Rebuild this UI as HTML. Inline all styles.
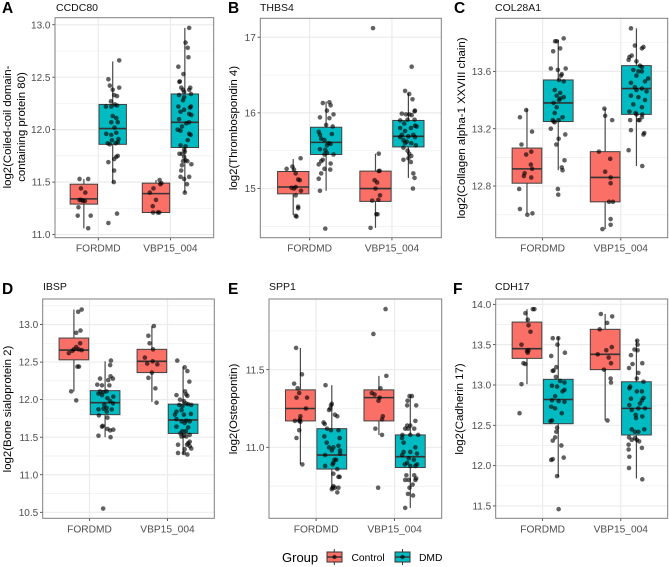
<!DOCTYPE html>
<html lang="en">
<head>
<meta charset="utf-8">
<title>Proteomic boxplots</title>
<style>
html,body{margin:0;padding:0;background:#fff;}
svg{display:block;font-family:"Liberation Sans",sans-serif;filter:blur(0.35px);}
</style>
</head>
<body>
<svg id="chart" width="669" height="567" viewBox="0 0 669 567" xmlns="http://www.w3.org/2000/svg">
  <g>
    <text x="282" y="562" font-size="13" fill="#000">Group</text>
    <g>
      <line x1="334.3" x2="334.3" y1="549" y2="565" stroke="#333" stroke-width="1"/>
      <rect x="327" y="552" width="15" height="10" fill="#FA6F66" stroke="#333" stroke-width="1"/>
      <line x1="327" x2="342" y1="557" y2="557" stroke="#333" stroke-width="1.4"/>
      <circle cx="334.5" cy="557" r="2.2" fill="#000" fill-opacity="0.65"/>
      <text x="351.5" y="561" font-size="10.3" fill="#000">Control</text>
    </g>
    <g>
      <line x1="402.5" x2="402.5" y1="549" y2="565" stroke="#333" stroke-width="1"/>
      <rect x="395" y="552" width="15" height="10" fill="#00BBC2" stroke="#333" stroke-width="1"/>
      <line x1="395" x2="410" y1="557" y2="557" stroke="#333" stroke-width="1.4"/>
      <circle cx="402.5" cy="557" r="2.2" fill="#000" fill-opacity="0.65"/>
      <text x="419" y="561" font-size="10.3" fill="#000">DMD</text>
    </g>
  </g>
</svg>
<script>
const categories = ['FORDMD', 'VBP15_004'];
const groups = ['Control', 'DMD'];

// Panel A — CCDC80. Stats: [whisker-low, q1, median, q3, whisker-high]. Points: [jitter, value].
const aTicks = [11, 11.5, 12, 12.5, 13];
const aTickLabels = ['11.0', '11.5', '12.0', '12.5', '13.0'];
const aMinor = [11.25, 11.75, 12.25, 12.75];
const aStatsControlFordmd = [11.06, 11.29, 11.34, 11.48, 11.53];
const aStatsDmdFordmd = [11.49, 11.86, 12.01, 12.24, 12.65];
const aStatsControlVbp = [11.21, 11.21, 11.39, 11.49, 11.52];
const aStatsDmdVbp = [11.40, 11.83, 12.07, 12.34, 12.97];
const aPointsControlFordmd = [[-.26,11.53],[-.14,11.53],[-.24,11.44],[-.18,11.40],[-.26,11.33],[-.235,11.33],[-.185,11.32],[-.275,11.26],[-.285,11.18],[-.105,11.18],[-.14,11.06],[-.21,11.32]];
const aPointsDmdFordmd = [[.29,12.66],[.14,12.48],[.16,12.42],[.29,12.40],[.2,12.38],[.22,12.33],[.26,12.32],[.175,12.27],[.105,12.22],[.18,12.22],[.23,12.24],[.26,12.23],[.2,12.13],[.25,12.11],[.18,12.07],[.27,12.07],[.225,12.02],[.11,11.96],[.18,11.95],[.25,11.97],[.28,11.91],[.19,11.90],[.13,11.87],[.16,11.86],[.24,11.87],[.27,11.88],[.27,11.75],[.25,11.74],[.22,11.72],[.14,11.69],[.22,11.61],[.215,11.50],[.26,11.20],[.14,11.11]];
const aPointsControlVbp = [[-.15,11.52],[-.125,11.49],[-.14,11.48],[-.235,11.44],[-.285,11.40],[-.2,11.33],[-.245,11.27],[-.24,11.21],[-.175,11.21],[-.155,11.21]];
const aPointsDmdVbp = [[.26,12.97],[.21,12.83],[.24,12.78],[.25,12.69],[.11,12.60],[.18,12.53],[.13,12.46],[.125,12.455],[.15,12.40],[.275,12.40],[.26,12.38],[.175,12.38],[.19,12.36],[.285,12.34],[.12,12.33],[.19,12.31],[.175,12.28],[.11,12.22],[.285,12.22],[.27,12.21],[.19,12.19],[.14,12.17],[.26,12.15],[.29,12.14],[.12,12.10],[.26,12.07],[.22,12.06],[.16,12.03],[.1,12.0],[.14,11.99],[.26,11.96],[.28,11.95],[.24,11.90],[.14,11.85],[.21,11.84],[.19,11.81],[.2,11.79],[.125,11.77],[.16,11.77],[.19,11.74],[.21,11.71],[.175,11.70],[.235,11.70],[.29,11.67],[.16,11.66],[.15,11.61],[.14,11.55],[.26,11.55],[.19,11.53],[.23,11.48],[.2,11.40]];

// Panel B — THBS4
const bTicks = [15, 16, 17];
const bTickLabels = ['15', '16', '17'];
const bMinor = [14.5, 15.5, 16.5];
const bStatsControlFordmd = [14.65, 14.93, 15.02, 15.225, 15.39];
const bStatsDmdFordmd = [14.97, 15.45, 15.61, 15.81, 16.15];
const bStatsControlVbp = [14.48, 14.83, 15.0, 15.23, 15.46];
const bStatsDmdVbp = [15.14, 15.55, 15.69, 15.90, 16.26];
const bPointsControlFordmd = [[-.11,15.40],[-.28,15.26],[-.21,15.29],[-.19,15.25],[-.17,15.20],[-.14,15.12],[-.12,15.11],[-.22,15.01],[-.17,15.02],[-.105,14.97],[-.17,14.91],[-.14,14.76],[-.14,14.74],[-.17,14.64],[-.16,14.63],[-.19,15.0]];
const bPointsDmdFordmd = [[.16,16.13],[.24,16.14],[.255,16.10],[.21,16.03],[.125,15.94],[.29,15.98],[.24,15.93],[.2,15.84],[.28,15.82],[.11,15.75],[.125,15.71],[.14,15.66],[.27,15.72],[.18,15.64],[.23,15.60],[.255,15.59],[.21,15.57],[.125,15.52],[.19,15.51],[.21,15.47],[.18,15.45],[.29,15.45],[.16,15.38],[.14,15.36],[.11,15.32],[.255,15.33],[.18,15.26],[.25,15.25],[.14,15.20],[.11,15.13],[.125,14.97],[.19,14.47]];
const bPointsControlVbp = [[-.23,17.12],[-.16,15.46],[-.16,15.23],[-.15,15.235],[-.21,15.11],[-.18,15.08],[-.2,15.0],[-.145,14.91],[-.24,14.84],[-.165,14.85],[-.19,14.66],[-.175,14.66],[-.26,14.48]];
const bPointsDmdVbp = [[.24,16.61],[.16,16.29],[.21,16.25],[.25,16.18],[.28,16.03],[.275,16.02],[.12,15.99],[.17,15.98],[.21,15.98],[.24,15.97],[.1,15.90],[.19,15.91],[.275,15.91],[.15,15.86],[.28,15.83],[.1,15.80],[.23,15.80],[.3,15.82],[.16,15.76],[.12,15.71],[.2,15.69],[.26,15.71],[.1,15.68],[.28,15.68],[.14,15.64],[.18,15.62],[.235,15.60],[.16,15.60],[.29,15.57],[.14,15.54],[.19,15.50],[.21,15.46],[.235,15.43],[.2,15.40],[.14,15.38],[.23,15.35],[.26,15.20],[.275,15.14],[.255,15.0]];

// Panel C — COL28A1
const cTicks = [12.8, 13.2, 13.6];
const cTickLabels = ['12.8', '13.2', '13.6'];
const cMinor = [12.6, 13.0, 13.4, 13.8];
const cStatsControlFordmd = [12.61, 12.82, 12.92, 13.065, 13.34];
const cStatsDmdFordmd = [12.91, 13.25, 13.38, 13.54, 13.82];
const cStatsControlVbp = [12.50, 12.69, 12.86, 13.04, 13.34];
const cStatsDmdVbp = [12.94, 13.30, 13.48, 13.64, 13.90];
const cPointsControlFordmd = [[-.21,13.33],[-.29,13.28],[-.135,13.18],[-.27,13.09],[-.145,13.04],[-.21,13.02],[-.15,12.95],[-.135,12.92],[-.23,12.89],[-.24,12.87],[-.145,12.86],[-.3,12.78],[-.29,12.64],[-.195,12.60],[-.13,12.61]];
const cPointsDmdFordmd = [[.27,13.83],[.16,13.81],[.18,13.81],[.225,13.76],[.135,13.74],[.105,13.62],[.195,13.61],[.295,13.62],[.245,13.58],[.235,13.57],[.21,13.54],[.27,13.53],[.155,13.47],[.225,13.45],[.18,13.43],[.27,13.42],[.225,13.41],[.14,13.38],[.21,13.40],[.18,13.35],[.155,13.31],[.13,13.26],[.205,13.26],[.255,13.28],[.14,13.25],[.155,13.245],[.105,13.20],[.29,13.16],[.205,13.13],[.175,13.09],[.28,12.98],[.245,12.93],[.255,12.91],[.195,12.78],[.2,12.74]];
const cPointsControlVbp = [[-.21,13.34],[-.2,13.29],[-.11,13.26],[-.28,13.04],[-.135,12.99],[-.2,12.90],[-.13,12.86],[-.13,12.82],[-.15,12.69],[-.1,12.69],[-.13,12.57],[-.13,12.53],[-.235,12.50]];
const cPointsDmdVbp = [[.13,13.90],[.18,13.78],[.27,13.76],[.29,13.77],[.11,13.70],[.14,13.71],[.1,13.68],[.2,13.67],[.245,13.64],[.27,13.63],[.16,13.61],[.225,13.60],[.27,13.60],[.2,13.57],[.35,13.55],[.13,13.52],[.31,13.53],[.18,13.49],[.27,13.48],[.33,13.46],[.2,13.47],[.13,13.43],[.225,13.42],[.31,13.40],[.16,13.37],[.27,13.35],[.11,13.32],[.19,13.31],[.275,13.30],[.2,13.30],[.27,13.28],[.12,13.26],[.24,13.26],[.225,13.26],[.3,13.17],[.29,13.16],[.13,13.19],[.1,13.05],[.275,12.94]];

// Panel D — IBSP
const dTicks = [10.5, 11, 11.5, 12, 12.5, 13];
const dTickLabels = ['10.5', '11.0', '11.5', '12.0', '12.5', '13.0'];
const dMinor = [10.75, 11.25, 11.75, 12.25, 12.75, 13.25];
const dStatsControlFordmd = [12.11, 12.53, 12.66, 12.82, 13.2];
const dStatsDmdFordmd = [11.5, 11.80, 11.96, 12.12, 12.51];
const dStatsControlVbp = [11.97, 12.36, 12.51, 12.67, 12.98];
const dStatsDmdVbp = [11.27, 11.55, 11.73, 11.94, 12.44];
const dPointsControlFordmd = [[-.1,13.20],[-.145,13.17],[-.115,12.92],[-.17,12.89],[-.12,12.75],[-.17,12.70],[-.2,12.67],[-.14,12.67],[-.22,12.65],[-.265,12.62],[-.1,12.66],[-.155,12.44],[-.135,12.44],[-.235,12.11],[-.17,11.99]];
const dPointsDmdFordmd = [[.275,12.52],[.265,12.46],[.135,12.28],[.27,12.31],[.3,12.28],[.24,12.26],[.1,12.20],[.16,12.19],[.255,12.19],[.135,12.11],[.18,12.10],[.22,12.11],[.115,12.08],[.16,12.06],[.305,12.04],[.23,12.02],[.265,11.98],[.3,11.95],[.19,11.93],[.115,11.87],[.22,11.89],[.18,11.88],[.285,11.87],[.22,11.84],[.12,11.79],[.23,11.76],[.17,11.65],[.16,11.64],[.23,11.61],[.305,11.60],[.265,11.59],[.115,11.52],[.27,11.50],[.175,10.55]];
const dPointsControlVbp = [[-.175,12.98],[-.245,12.85],[-.23,12.75],[-.185,12.67],[-.29,12.56],[-.19,12.51],[-.26,12.48],[-.13,12.47],[-.2,12.36],[-.245,12.29],[-.155,12.15],[-.14,11.96]];
const dPointsDmdVbp = [[.125,12.52],[.22,12.43],[.255,12.38],[.28,12.24],[.225,12.11],[.115,12.06],[.24,12.07],[.255,12.05],[.16,12.0],[.21,11.98],[.235,11.95],[.265,11.94],[.305,11.93],[.15,11.93],[.19,11.91],[.115,11.84],[.18,11.86],[.095,11.80],[.3,11.81],[.21,11.80],[.115,11.74],[.18,11.71],[.24,11.72],[.285,11.71],[.22,11.69],[.115,11.64],[.265,11.63],[.19,11.58],[.235,11.58],[.165,11.55],[.21,11.52],[.285,11.53],[.24,11.51],[.18,11.51],[.285,11.44],[.265,11.42],[.135,11.40],[.25,11.40],[.285,11.38],[.305,11.35],[.22,11.34],[.135,11.29],[.21,11.29],[.255,11.27]];

// Panel E — SPP1
const eTicks = [11, 11.5];
const eTickLabels = ['11.0', '11.5'];
const eMinor = [10.75, 11.25, 11.75];
const eStatsControlFordmd = [10.89, 11.17, 11.25, 11.37, 11.64];
const eStatsDmdFordmd = [10.73, 10.86, 10.95, 11.12, 11.40];
const eStatsControlVbp = [11.08, 11.17, 11.32, 11.37, 11.46];
const eStatsDmdVbp = [10.61, 10.87, 10.94, 11.08, 11.33];
const ePointsControlFordmd = [[-.255,11.64],[-.18,11.47],[-.28,11.41],[-.235,11.38],[-.215,11.35],[-.25,11.32],[-.115,11.32],[-.13,11.25],[-.2,11.20],[-.205,11.18],[-.27,11.17],[-.215,11.17],[-.2,11.165],[-.215,11.11],[-.25,11.06],[-.175,10.89]];
const ePointsDmdFordmd = [[.12,11.40],[.2,11.28],[.19,11.27],[.18,11.25],[.165,11.24],[.24,11.21],[.27,11.20],[.095,11.16],[.11,11.15],[.14,11.12],[.19,11.11],[.285,11.11],[.105,11.07],[.3,11.06],[.135,11.03],[.165,11.0],[.22,11.0],[.285,11.01],[.305,10.98],[.2,10.98],[.305,10.96],[.115,10.95],[.255,10.92],[.235,10.92],[.22,10.90],[.115,10.88],[.21,10.89],[.27,10.86],[.22,10.83],[.285,10.81],[.3,10.81],[.22,10.75],[.21,10.74],[.24,10.74],[.285,10.74],[.2,10.73],[.27,10.71]];
const ePointsControlVbp = [[-.115,11.89],[-.27,11.73],[-.105,11.46],[-.18,11.38],[-.29,11.35],[-.255,11.34],[-.19,11.32],[-.205,11.30],[-.15,11.20],[-.16,11.18],[-.245,11.12],[-.16,11.08],[-.21,10.74]];
const ePointsDmdVbp = [[.19,11.33],[.22,11.33],[.165,11.30],[.16,11.27],[.275,11.27],[.265,11.17],[.16,11.14],[.2,11.14],[.17,11.12],[.135,11.12],[.25,11.12],[.3,11.08],[.1,11.08],[.095,11.06],[.2,11.08],[.115,11.03],[.265,11.0],[.115,10.97],[.2,10.97],[.285,10.96],[.095,10.95],[.18,10.93],[.245,10.92],[.16,10.90],[.13,10.89],[.285,10.89],[.2,10.88],[.265,10.88],[.15,10.82],[.25,10.82],[.275,10.80],[.265,10.79],[.135,10.79],[.18,10.79],[.23,10.76],[.19,10.74],[.17,10.70],[.235,10.69],[.135,10.61]];

// Panel F — CDH17
const fTicks = [11.5, 12, 12.5, 13, 13.5, 14];
const fTickLabels = ['11.5', '12.0', '12.5', '13.0', '13.5', '14.0'];
const fMinor = [11.75, 12.25, 12.75, 13.25, 13.75];
const fStatsControlFordmd = [13.01, 13.33, 13.45, 13.78, 13.94];
const fStatsDmdFordmd = [11.86, 12.52, 12.82, 13.07, 13.6];
const fStatsControlVbp = [12.56, 13.19, 13.38, 13.69, 13.88];
const fStatsDmdVbp = [11.84, 12.38, 12.71, 13.04, 13.56];
const fPointsControlFordmd = [[-.125,13.94],[-.105,13.94],[-.22,13.89],[-.19,13.81],[-.18,13.74],[-.155,13.66],[-.27,13.50],[-.18,13.43],[-.2,13.42],[-.19,13.40],[-.245,13.27],[-.22,13.26],[-.27,13.01],[-.295,12.65]];
const fPointsDmdFordmd = [[.13,13.58],[.2,13.58],[.19,13.50],[.285,13.40],[.11,13.36],[.175,13.22],[.14,13.18],[.13,13.175],[.17,13.10],[.225,13.05],[.28,13.03],[.12,12.99],[.185,12.98],[.28,12.94],[.255,12.92],[.16,12.86],[.12,12.81],[.205,12.80],[.28,12.79],[.11,12.73],[.16,12.71],[.245,12.65],[.12,12.56],[.1,12.55],[.185,12.47],[.175,12.42],[.16,12.35],[.13,12.31],[.24,12.25],[.13,12.08],[.11,12.07],[.27,12.10],[.185,11.87],[.205,11.46]];
const fPointsControlVbp = [[-.255,13.88],[-.11,13.85],[-.175,13.77],[-.27,13.69],[-.115,13.47],[-.185,13.43],[-.295,13.38],[-.155,13.34],[-.125,13.27],[-.215,13.19],[-.13,13.08],[-.125,13.03],[-.17,12.56]];
const fPointsDmdVbp = [[.21,13.55],[.215,13.50],[.175,13.44],[.215,13.43],[.13,13.37],[.15,13.26],[.275,13.27],[.105,13.21],[.225,13.15],[.205,13.08],[.29,13.04],[.12,12.98],[.11,12.96],[.205,12.92],[.27,12.92],[.29,12.84],[.13,12.83],[.27,12.81],[.245,12.77],[.11,12.75],[.14,12.69],[.225,12.71],[.31,12.71],[.19,12.63],[.195,12.59],[.275,12.61],[.14,12.45],[.3,12.45],[.18,12.42],[.225,12.42],[.105,12.35],[.14,12.32],[.18,12.34],[.205,12.32],[.235,12.30],[.1,12.26],[.27,12.22],[.1,12.20],[.11,12.11],[.105,11.97],[.275,11.83]];

const panels = [
  {id:'a', letter:'A', lx:2, ly:13, title:'CCDC80', tx:56, ty:11, ylab:['log2(Coiled-coil domain-','containing protein 80)'], yx:[11,25], yc:127,
   box:{l:55,r:213.7,t:17.7,b:237.7}, domain:[10.97,13.067], ticks:aTicks, labels:aTickLabels, minor:aMinor,
   stats:[aStatsControlFordmd,aStatsDmdFordmd,aStatsControlVbp,aStatsDmdVbp], pts:[aPointsControlFordmd,aPointsDmdFordmd,aPointsControlVbp,aPointsDmdVbp]},
  {id:'b', letter:'B', lx:228, ly:13, title:'THBS4', tx:260, ty:11, ylab:['log2(Thrombospondin 4)'], yx:[237], yc:128,
   box:{l:260.3,r:441.3,t:18.3,b:237.7}, domain:[14.35,17.25], ticks:bTicks, labels:bTickLabels, minor:bMinor,
   stats:[bStatsControlFordmd,bStatsDmdFordmd,bStatsControlVbp,bStatsDmdVbp], pts:[bPointsControlFordmd,bPointsDmdFordmd,bPointsControlVbp,bPointsDmdVbp]},
  {id:'c', letter:'C', lx:454, ly:13, title:'COL28A1', tx:495, ty:11, ylab:['log2(Collagen alpha-1 XXVIII chain)'], yx:[465], yc:128,
   box:{l:495.7,r:667.7,t:18.3,b:237.7}, domain:[12.44,13.97], ticks:cTicks, labels:cTickLabels, minor:cMinor,
   stats:[cStatsControlFordmd,cStatsDmdFordmd,cStatsControlVbp,cStatsDmdVbp], pts:[cPointsControlFordmd,cPointsDmdFordmd,cPointsControlVbp,cPointsDmdVbp]},
  {id:'d', letter:'D', lx:2, ly:294, title:'IBSP', tx:43, ty:290, ylab:['log2(Bone sialoprotein 2)'], yx:[11], yc:409,
   box:{l:42.7,r:214.3,t:299,b:518.3}, domain:[10.42,13.34], ticks:dTicks, labels:dTickLabels, minor:dMinor,
   stats:[dStatsControlFordmd,dStatsDmdFordmd,dStatsControlVbp,dStatsDmdVbp], pts:[dPointsControlFordmd,dPointsDmdFordmd,dPointsControlVbp,dPointsDmdVbp]},
  {id:'e', letter:'E', lx:228, ly:294, title:'SPP1', tx:269, ty:290, ylab:['log2(Osteopontin)'], yx:[237], yc:409,
   box:{l:269,r:441.7,t:299,b:518.3}, domain:[10.543,11.955], ticks:eTicks, labels:eTickLabels, minor:eMinor,
   stats:[eStatsControlFordmd,eStatsDmdFordmd,eStatsControlVbp,eStatsDmdVbp], pts:[ePointsControlFordmd,ePointsDmdFordmd,ePointsControlVbp,ePointsDmdVbp]},
  {id:'f', letter:'F', lx:453, ly:294, title:'CDH17', tx:495, ty:290, ylab:['log2(Cadherin 17)'], yx:[463], yc:409,
   box:{l:495.7,r:667.7,t:299,b:518.3}, domain:[11.347,14.066], ticks:fTicks, labels:fTickLabels, minor:fMinor,
   stats:[fStatsControlFordmd,fStatsDmdFordmd,fStatsControlVbp,fStatsDmdVbp], pts:[fPointsControlFordmd,fPointsDmdFordmd,fPointsControlVbp,fPointsDmdVbp]}
];

const NS = 'http://www.w3.org/2000/svg';
const svg = document.getElementById('chart');
const fills = ['#FA6F66', '#00BBC2'];
const dodge = 0.2;
const boxWidth = 0.38;

function mk(parent, tag, attrs, text) {
  const el = document.createElementNS(NS, tag);
  for (const k in attrs) el.setAttribute(k, attrs[k]);
  if (text !== undefined) el.textContent = text;
  parent.appendChild(el);
  return el;
}

panels.forEach(function (p) {
  const b = p.box;
  const xScale = function (c) { return b.l + (c + 0.6) / 2.2 * (b.r - b.l); };
  const yScale = function (v) { return b.b - (v - p.domain[0]) / (p.domain[1] - p.domain[0]) * (b.b - b.t); };

  const g = mk(svg, 'g', {});
  
  

  const letter = mk(g, 'text', {x: p.lx, y: p.ly, 'font-size': 15.5, 'font-weight': 'bold', fill: '#000'}, p.letter);
  
  

  const title = mk(g, 'text', {x: p.tx, y: p.ty, 'font-size': 10.5, fill: '#111'}, p.title);
  
  

  p.ylab.forEach(function (line, i) {
    const x = p.yx[i];
    const yt = mk(g, 'text', {x: x, y: p.yc, 'font-size': 11.4, 'text-anchor': 'middle', fill: '#000', transform: 'rotate(-90 ' + x + ' ' + p.yc + ')'}, line);
    
    
  });

  p.minor.forEach(function (v) {
    const ln = mk(g, 'line', {x1: b.l, x2: b.r, y1: yScale(v), y2: yScale(v), stroke: '#efefef', 'stroke-width': 0.7});
    
    
  });
  p.ticks.forEach(function (v, i) {
    const y = yScale(v);
    const ln = mk(g, 'line', {x1: b.l, x2: b.r, y1: y, y2: y, stroke: '#ebebeb', 'stroke-width': 1.2});
    
    
    const tk = mk(g, 'line', {x1: b.l - 2.7, x2: b.l, y1: y, y2: y, stroke: '#333', 'stroke-width': 0.8});
    
    
    const lb = mk(g, 'text', {x: b.l - 4.5, y: y + 3.6, 'font-size': 10, 'text-anchor': 'end', fill: '#4d4d4d'}, p.labels[i]);
    
    
  });
  categories.forEach(function (name, c) {
    const x = xScale(c);
    const ln = mk(g, 'line', {x1: x, x2: x, y1: b.t, y2: b.b, stroke: '#ebebeb', 'stroke-width': 1.2});
    
    
    const tk = mk(g, 'line', {x1: x, x2: x, y1: b.b, y2: b.b + 2.7, stroke: '#333', 'stroke-width': 0.8});
    
    
    const lb = mk(g, 'text', {x: x, y: b.b + 14, 'font-size': 10.2, 'text-anchor': 'middle', fill: '#4d4d4d'}, name);
    
    
  });

  p.stats.forEach(function (s, i) {
    const c = Math.floor(i / 2);
    const grp = i % 2;
    const cx = xScale(c + (grp === 0 ? -dodge : dodge));
    const w = boxWidth / 2.2 * (b.r - b.l);
    const bg = mk(g, 'g', {});
    
    
    mk(bg, 'line', {x1: cx, x2: cx, y1: yScale(s[0]), y2: yScale(s[4]), stroke: '#4a4a4a', 'stroke-width': 1.2});
    mk(bg, 'rect', {x: cx - w / 2, y: yScale(s[3]), width: w, height: yScale(s[1]) - yScale(s[3]), fill: fills[grp], stroke: '#404040', 'stroke-width': 1});
    mk(bg, 'line', {x1: cx - w / 2, x2: cx + w / 2, y1: yScale(s[2]), y2: yScale(s[2]), stroke: '#333', 'stroke-width': 1.6});
  });

  p.pts.forEach(function (series, i) {
    const c = Math.floor(i / 2);
    series.forEach(function (pt) {
      const dot = mk(g, 'circle', {cx: xScale(c + pt[0]), cy: yScale(pt[1]), r: 2.3, fill: '#000', 'fill-opacity': 0.62});
      
      
    });
  });

  const frame = mk(g, 'rect', {x: b.l, y: b.t, width: b.r - b.l, height: b.b - b.t, fill: 'none', stroke: '#7f7f7f', 'stroke-width': 1});
  
  
});
</script>
</body>
</html>
